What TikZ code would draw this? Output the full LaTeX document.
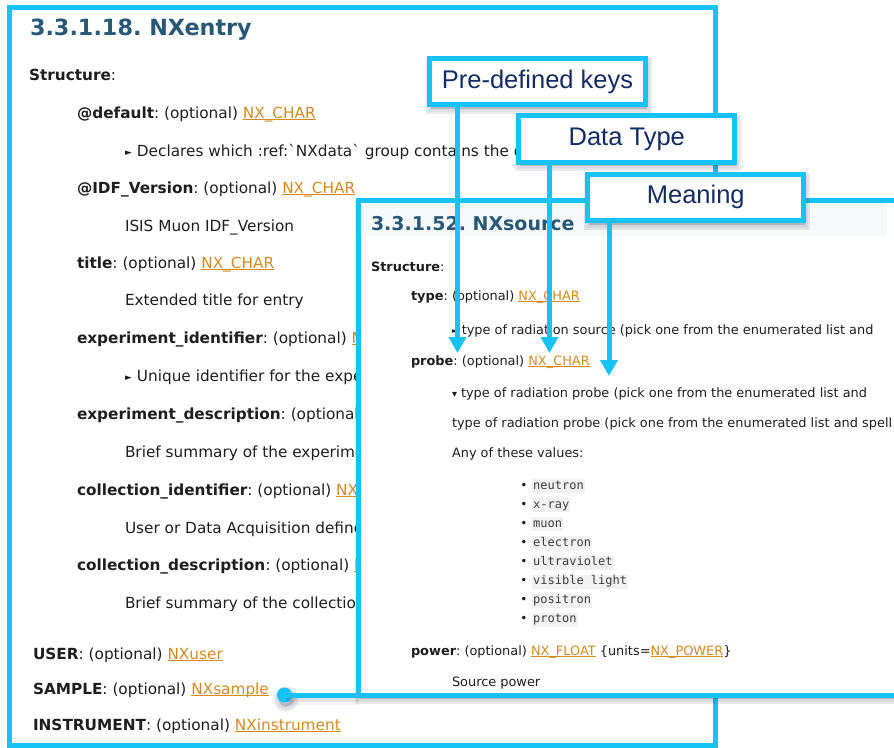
\documentclass[tikz,border=0pt]{standalone}
\usepackage{fontspec}
\setmainfont{DejaVu Sans}
\newfontfamily\calloutfont{Liberation Sans}
\newfontfamily\codefont{DejaVu Sans Mono}
\usetikzlibrary{arrows.meta}
\frenchspacing

\definecolor{frame}{RGB}{22,194,246}
\definecolor{ink}{RGB}{30,30,30}
\definecolor{heading}{RGB}{40,88,118}
\definecolor{linkc}{RGB}{212,138,32}
\definecolor{navy}{RGB}{20,44,100}
\definecolor{codebg}{RGB}{241,241,241}
\definecolor{codeink}{RGB}{60,60,60}
\definecolor{band}{RGB}{247,248,249}
\definecolor{shade}{RGB}{40,50,80}

% underlined hyperlink text
\newsavebox\lnkbox
\newcommand\lnk[1]{\sbox\lnkbox{\color{linkc}#1}{\color{linkc}\rlap{\usebox\lnkbox}\rule[-0.15em]{\wd\lnkbox}{0.075em}}}
% small disclosure triangles
\newcommand\closedtri[2]{\raisebox{#1}{\fontsize{#2}{#2}\selectfont ►}}
\newcommand\opentri{{\fontsize{10}{10}\selectfont ▾}}
\newcommand\entryfont{\fontsize{15.3}{18}\selectfont}
\newcommand\sourcefont{\fontsize{12.9}{15}\selectfont}

\begin{document}
\begin{tikzpicture}[x=1pt,y=-1pt,
  panel/.style={draw=frame, line width=5pt, fill=white, outer sep=0pt, inner sep=0pt, anchor=north west},
  etxt/.style={anchor=base west, inner sep=0pt, outer sep=0pt, font=\entryfont, text=ink},
  stxt/.style={anchor=base west, inner sep=0pt, outer sep=0pt, font=\sourcefont, text=ink},
  htxt/.style={anchor=base west, inner sep=0pt, outer sep=0pt, text=heading},
  codeword/.style={anchor=base west, fill=codebg, text=codeink, font=\codefont\fontsize{12}{14}\selectfont,
    text height=8.5pt, text depth=2.5pt, inner xsep=1pt, inner ysep=1.5pt},
  dotmark/.style={anchor=base, inner sep=0pt, font=\fontsize{12}{14}\selectfont, text=ink},
  shadelayer/.style={preaction={fill=shade, fill opacity=#1, draw=shade, draw opacity=#1,
    line width=#1*100pt, transform canvas={xshift=1.5pt,yshift=-4pt}}},
  softshadow/.style={shadelayer=0.1, shadelayer=0.06, shadelayer=0.03},
  callout/.style={draw=frame, line width=5pt, fill=white, outer sep=0pt, inner sep=0pt,
    minimum width=216pt, minimum height=46.5pt, text=navy,
    font=\calloutfont\fontsize{25.5}{30}\selectfont, softshadow},
  pointer/.style={draw=frame, line width=5pt, -{Triangle[width=17pt,length=16pt]}},
]
\useasboundingbox (0,0) rectangle (894,747);
\clip (0,0) rectangle (894,747);

% ---------- NXentry page ----------
\node[panel, minimum width=706pt, minimum height=737.5pt] (entry) at (9.5,7.5) {};
\begin{scope}
\clip (12,10) rectangle (713,742.5);
\node[htxt, font=\bfseries\fontsize{22.3}{26}\selectfont] (etitle) at (30,35) {3.3.1.18. NXentry};
\node[etxt] (e1) at (29,80) {\textbf{Structure}:};
\node[etxt] (e2) at (77,118) {\textbf{@default}: (optional) \lnk{NX\_CHAR}};
\node[etxt] (e3) at (125,156) {\closedtri{1pt}{9}\hspace{5pt}Declares which :ref:\textasciigrave NXdata\textasciigrave\ group contains the data};
\node[etxt] (e4) at (77,193) {\textbf{@IDF\_Version}: (optional) \lnk{NX\_CHAR}};
\node[etxt] (e5) at (125,231) {ISIS Muon IDF\_Version};
\node[etxt] (e6) at (77,268) {\textbf{title}: (optional) \lnk{NX\_CHAR}};
\node[etxt] (e7) at (125,305) {Extended title for entry};
\node[etxt] (e8) at (77,343) {\textbf{experiment\_identifier}: (optional) \lnk{NX\_CHAR}};
\node[etxt] (e9) at (125,381) {\closedtri{1pt}{9}\hspace{5pt}Unique identifier for the experiment};
\node[etxt] (e10) at (77,419) {\textbf{experiment\_description}: (optional) \lnk{NX\_CHAR}};
\node[etxt] (e11) at (125,457) {Brief summary of the experiment};
\node[etxt] (e12) at (77,495) {\textbf{collection\_identifier}: (optional) \lnk{NX\_CHAR}};
\node[etxt] (e13) at (125,533) {User or Data Acquisition defined};
\node[etxt] (e14) at (77,570) {\textbf{collection\_description}: (optional) \lnk{NX\_CHAR}};
\node[etxt] (e15) at (125,608) {Brief summary of the collection};
\node[etxt] (e16) at (33,659) {\textbf{USER}: (optional) \lnk{NXuser}};
\node[etxt] (e17) at (33,694) {\textbf{SAMPLE}: (optional) \lnk{NXsample}};
\node[etxt] (e18) at (33,730) {\textbf{INSTRUMENT}: (optional) \lnk{NXinstrument}};
\end{scope}

% ---------- NXsource page ----------
\node[panel, softshadow, minimum width=560pt, minimum height=495pt] (src) at (358.5,200) {};
\fill[band] (362,203) rectangle (887,236);
\node[htxt, font=\bfseries\fontsize{19}{22}\selectfont] (stitle) at (371,230) {3.3.1.52. NXsource};
\node[stxt] (s1) at (371,271) {\textbf{Structure}:};
\node[stxt] (s2) at (411,300.5) {\textbf{type}: (optional) \lnk{NX\_CHAR}};
\node[stxt] (s3) at (452,334) {\closedtri{1pt}{7.5}\hspace{4pt}type of radiation source (pick one from the enumerated list and};
\node[stxt] (s4) at (411,365.5) {\textbf{probe}: (optional) \lnk{NX\_CHAR}};
\node[stxt] (s5) at (452,397) {\opentri\hspace{4pt}type of radiation probe (pick one from the enumerated list and};
\node[stxt] (s6) at (452,427.5) {type of radiation probe (pick one from the enumerated list and spell};
\node[stxt] (s7) at (452,457.5) {Any of these values:};
\foreach \w [count=\i] in {neutron,x-ray,muon,electron,ultraviolet,visible light,positron,proton}{
  \node[dotmark] (b\i) at (524,{489+(\i-1)*19.14}) {•};
  \node[codeword] (v\i) at (532,{489+(\i-1)*19.14}) {\w};
}
\node[stxt] (s8) at (411,655) {\textbf{power}: (optional) \lnk{NX\_FLOAT} \{units=\lnk{NX\_POWER}\}};
\node[stxt] (s9) at (452,686) {Source power};

% ---------- link from SAMPLE to the source page ----------
\node[circle, fill=frame, minimum size=15pt, inner sep=0pt, softshadow] (dot) at (284.5,695) {};
\draw[shade, opacity=0.04, line width=11pt] ([xshift=1.5pt,yshift=-4pt]dot.center) -- ([yshift=-4pt]src.south west);
\draw[shade, opacity=0.07, line width=6pt] ([xshift=1.5pt,yshift=-4pt]dot.center) -- ([yshift=-4pt]src.south west);
\draw[frame, line width=5pt] (dot.center) -- (src.south west);

% ---------- callouts ----------
\node[callout] (keys) at (537.5,81.5) {Pre-defined keys};
\node[callout] (dtype) at (626.75,139) {Data Type};
\node[callout] (meaning) at (695.75,197.25) {Meaning};

\coordinate (keytip) at (457.5,353);
\coordinate (typetip) at (549.5,353);
\coordinate (meantip) at (609,376);
\draw[pointer] (keys.south -| keytip) -- (keytip);
\draw[pointer] (dtype.south -| typetip) -- (typetip);
\draw[pointer] (meaning.south -| meantip) -- (meantip);
\end{tikzpicture}
\end{document}
